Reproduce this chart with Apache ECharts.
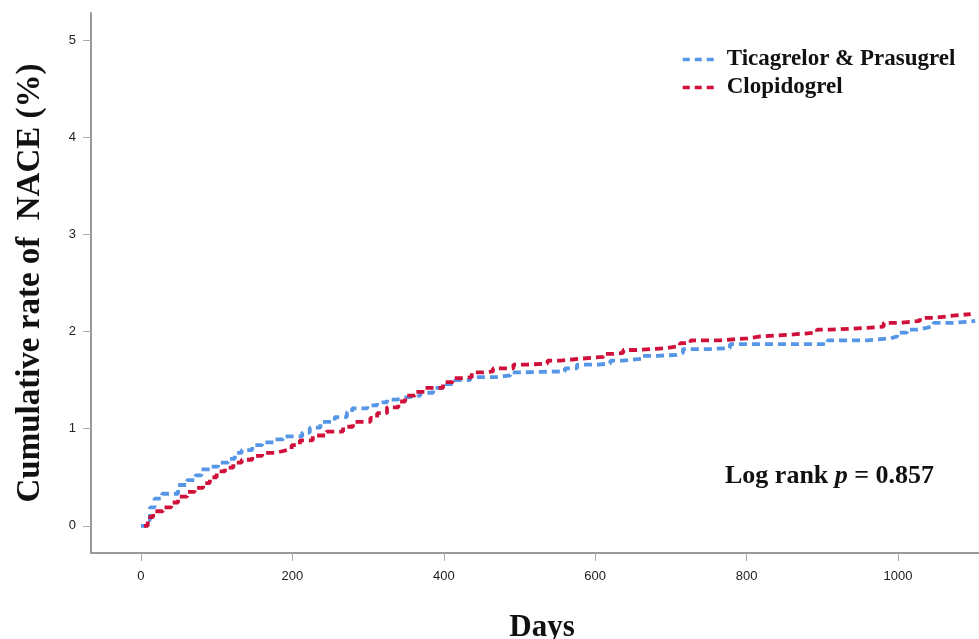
<!DOCTYPE html>
<html>
<head>
<meta charset="utf-8">
<script src="https://cdn.jsdelivr.net/npm/echarts@6/dist/echarts.min.js"></script>
<style>
  html, body { margin: 0; padding: 0; background: #fff; }
  #main { width: 979px; height: 639px; }
</style>
</head>
<body>
<div id="main"></div>
<script>
// KM curves (days, cumulative %)
var ticaDays = [0, 8, 12, 18, 28, 49, 61, 72, 80, 91, 102, 115, 124, 133, 147, 160, 177, 188, 213, 223, 237, 256, 272, 279, 299, 312, 325, 338, 349, 369, 386, 404, 415, 435, 472, 488, 501, 560, 576, 603, 620, 637, 663, 682, 708, 716, 752, 778, 907, 959, 990, 999, 1012, 1026, 1039, 1047, 1073, 1092, 1102]
var ticaRate = [0, 0.06, 0.19, 0.28, 0.33, 0.42, 0.47, 0.52, 0.58, 0.61, 0.65, 0.69, 0.75, 0.78, 0.83, 0.86, 0.89, 0.92, 0.96, 1.01, 1.07, 1.12, 1.17, 1.21, 1.24, 1.27, 1.30, 1.32, 1.34, 1.37, 1.42, 1.46, 1.50, 1.53, 1.55, 1.58, 1.59, 1.62, 1.66, 1.67, 1.70, 1.72, 1.75, 1.76, 1.78, 1.82, 1.83, 1.87, 1.91, 1.93, 1.95, 1.99, 2.02, 2.04, 2.06, 2.09, 2.10, 2.11, 2.11]

var clopDays = [4, 9, 16, 29, 40, 49, 61, 71, 82, 91, 100, 111, 122, 133, 147, 160, 177, 188, 199, 210, 227, 245, 267, 280, 303, 312, 325, 340, 349, 362, 375, 399, 412, 426, 437, 452, 465, 492, 510, 537, 554, 580, 611, 624, 637, 655, 673, 695, 712, 726, 765, 801, 818, 862, 893, 911, 941, 981, 1003, 1029, 1047, 1069, 1096]
var clopRate = [0, 0.09, 0.15, 0.19, 0.24, 0.30, 0.35, 0.39, 0.44, 0.50, 0.56, 0.60, 0.65, 0.68, 0.72, 0.75, 0.77, 0.79, 0.83, 0.88, 0.93, 0.97, 1.02, 1.07, 1.11, 1.16, 1.22, 1.28, 1.34, 1.38, 1.42, 1.48, 1.52, 1.53, 1.58, 1.59, 1.62, 1.66, 1.67, 1.70, 1.72, 1.74, 1.77, 1.78, 1.81, 1.82, 1.83, 1.85, 1.88, 1.91, 1.93, 1.95, 1.97, 1.99, 2.02, 2.03, 2.05, 2.09, 2.11, 2.14, 2.16, 2.18, 2.18]

var xTicks = [0, 200, 400, 600, 800, 1000]
var yTicks = [0, 1, 2, 3, 4, 5]

function pairs(xs, ys) {
  return xs.map(function (x, i) { return [x, ys[i]] })
}

var serif = '"Liberation Serif", "Times New Roman", serif'
var sans = '"Liberation Sans", Arial, sans-serif'
var blue = '#5596e6'
var red = '#d0103a'

var chart = echarts.init(document.getElementById('main'))
var option = {
  animation: false,
  grid: { left: 91, right: 0, top: 13, bottom: 86, outerBoundsMode: 'none', containLabel: false },
  legend: {
    left: 676,
    top: 43,
    orient: 'vertical',
    itemWidth: 31,
    itemHeight: 14,
    itemGap: 5,
    itemStyle: { opacity: 0 },
    lineStyle: { width: 3.5, type: [7, 5] },
    textStyle: { fontFamily: serif, fontWeight: 'bold', fontSize: 23, color: '#111', padding: [0, 0, 0, 8] },
    data: ['Ticagrelor & Prasugrel', 'Clopidogrel']
  },
  xAxis: {
    type: 'value',
    min: -66,
    max: 1107,
    name: 'Days',
    nameLocation: 'middle',
    nameGap: 59,
    nameTextStyle: { fontFamily: serif, fontWeight: 'bold', fontSize: 31, color: '#111', padding: [0, 0, 0, 14] },
    axisLine: { onZero: false, lineStyle: { color: '#9a9a9a', width: 2 } },
    axisTick: { show: true, length: 8, lineStyle: { color: '#aaa' }, customValues: xTicks },
    axisLabel: { customValues: xTicks, margin: 17, fontFamily: sans, fontSize: 13, color: '#222', formatter: function (v) { return String(v) } },
    splitLine: { show: false }
  },
  yAxis: {
    type: 'value',
    min: -0.28,
    max: 5.28,
    name: 'Cumulative rate of  NACE (%)',
    nameLocation: 'middle',
    nameGap: 44,
    nameTextStyle: { fontFamily: serif, fontWeight: 'bold', fontSize: 33, color: '#111' },
    axisLine: { show: true, onZero: false, lineStyle: { color: '#9a9a9a', width: 2 } },
    axisTick: { show: true, length: 8, lineStyle: { color: '#aaa' }, customValues: yTicks },
    axisLabel: { customValues: yTicks, margin: 15, fontFamily: sans, fontSize: 13, color: '#222' },
    splitLine: { show: false }
  },
  graphic: [{
    type: 'text',
    left: 725,
    top: 463,
    style: {
      text: '{a|Log rank }{b|p}{a| = 0.857}',
      rich: {
        a: { fontFamily: serif, fontWeight: 'bold', fontSize: 26, fill: '#111' },
        b: { fontFamily: serif, fontWeight: 'bold', fontStyle: 'italic', fontSize: 26, fill: '#111' }
      }
    }
  }],
  series: [
    {
      name: 'Ticagrelor & Prasugrel',
      type: 'line',
      step: 'end',
      symbol: 'none',
      color: blue,
      lineStyle: { width: 3.8, type: [8, 5], color: blue },
      data: pairs(ticaDays, ticaRate)
    },
    {
      name: 'Clopidogrel',
      type: 'line',
      step: 'end',
      symbol: 'none',
      color: red,
      lineStyle: { width: 3.8, type: [8, 5], color: red },
      data: pairs(clopDays, clopRate)
    }
  ]
}
chart.setOption(option)
</script>
</body>
</html>
